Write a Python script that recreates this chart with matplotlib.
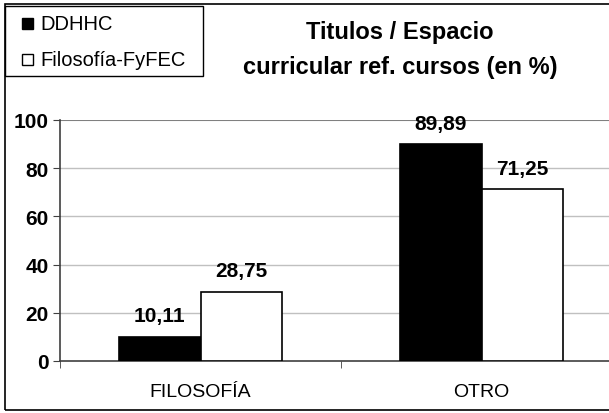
import matplotlib
matplotlib.use("Agg")
import matplotlib.pyplot as plt
from matplotlib.patches import Rectangle
import numpy as np

plt.rcParams['font.family'] = ['Liberation Sans', 'DejaVu Sans']

categorias = ["FILOSOFÍA", "OTRO"]
series = ["DDHHC", "Filosofía-FyFEC"]
ddhhc = [10.11, 89.89]
filosofia = [28.75, 71.25]
etiquetas_y = [0, 20, 40, 60, 80, 100]

W, H = 609, 414
fig = plt.figure(figsize=(W / 100, H / 100), dpi=100)
ax = fig.add_axes([60 / W, (H - 362) / H, 562 / W, 241 / H])

x = np.arange(len(categorias))
w = 0.29
b1 = ax.bar(x - w / 2, ddhhc, w, color="black", edgecolor="black", linewidth=1.2, zorder=3)
b2 = ax.bar(x + w / 2, filosofia, w, color="white", edgecolor="black", linewidth=1.2, zorder=3)

for bars, vals in ((b1, ddhhc), (b2, filosofia)):
    for r, v in zip(bars, vals):
        ax.annotate(f"{v:.2f}".replace(".", ","), (r.get_x() + r.get_width() / 2, v),
                    xytext=(0, 15), textcoords="offset points", ha="center", va="center",
                    fontsize=15, fontweight="bold", zorder=4, annotation_clip=False)

ax.set_xlim(-0.5, 1.5)
ax.set_ylim(0, 100)
ax.set_yticks(etiquetas_y)
ax.set_yticklabels([str(t) for t in etiquetas_y], fontweight="bold", fontsize=15)
ax.set_xticks(x)
ax.set_xticklabels(categorias, fontsize=14)
ax.tick_params(axis="x", length=0, pad=16)
ax.set_xticks([-0.5, 0.5, 1.5], minor=True)
ax.tick_params(axis="x", which="minor", length=5, direction="out", color="#404040")
ax.tick_params(axis="y", length=5, direction="out", color="#404040", pad=3)

for t in etiquetas_y[1:-1]:
    ax.axhline(t, color="#c0c0c0", linewidth=1, zorder=1)
ax.axhline(100, color="#808080", linewidth=1.5, zorder=1)
for s in ("top", "right"):
    ax.spines[s].set_visible(False)
ax.spines["left"].set_color("#404040")
ax.spines["bottom"].set_color("#404040")
ax.spines["left"].set_linewidth(1.2)
ax.spines["bottom"].set_linewidth(1.2)

# borde exterior y caja de leyenda
fig.patches.append(Rectangle((5 / W, 3 / H), 1.2, (H - 8) / H, transform=fig.transFigure,
                             fill=False, edgecolor="black", linewidth=1.2))
fig.patches.append(Rectangle((5 / W, (H - 77) / H), 198 / W, 70 / H, transform=fig.transFigure,
                             fill=False, edgecolor="black", linewidth=1))

for i, (nombre, color) in enumerate(zip(series, ["black", "white"])):
    y = (H - (24 + 36 * i)) / H
    fig.patches.append(Rectangle((22 / W, y - 5.5 / H), 11 / W, 11 / H, transform=fig.transFigure,
                                 facecolor=color, edgecolor="black", linewidth=1))
    fig.text(40 / W, y, nombre, fontsize=14.5, va="center", ha="left")

fig.text(400 / W, (H - 33) / H, "Titulos / Espacio", fontsize=17, fontweight="bold",
         ha="center", va="center")
fig.text(400 / W, (H - 68) / H, "curricular ref. cursos (en %)", fontsize=17, fontweight="bold",
         ha="center", va="center")

fig.savefig("out.png", dpi=100)
